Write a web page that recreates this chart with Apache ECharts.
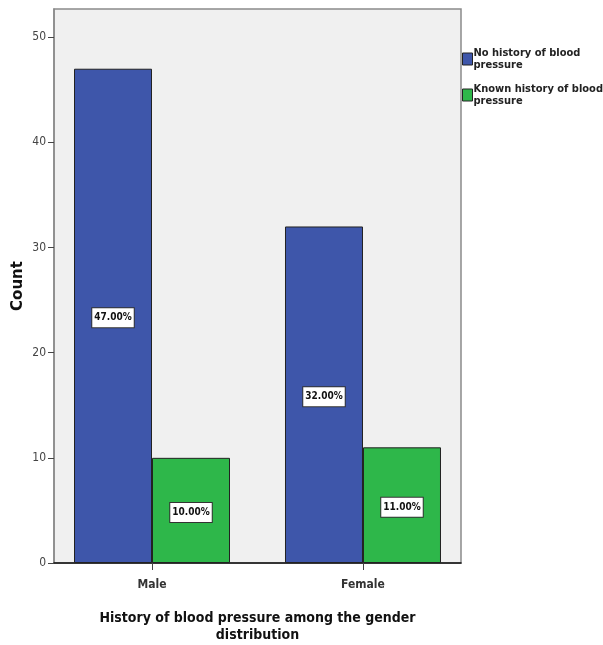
<!DOCTYPE html>
<html>
<head>
<meta charset="utf-8">
<script src="https://cdn.jsdelivr.net/npm/echarts@6/dist/echarts.min.js"></script>
<style>
html,body{margin:0;padding:0;background:#fff;}
#chart{width:603px;height:645px;}
</style>
</head>
<body>
<div id="chart"></div>
<script>
const categories = ['Male', 'Female'];
const seriesNames = ['No history of blood pressure', 'Known history of blood pressure'];
const noHistory = [47, 32];
const knownHistory = [10, 11];
const totalCount = 100;
const yTicks = [0, 10, 20, 30, 40, 50];

const FONT = "'DejaVu Sans Condensed', 'Liberation Sans Narrow', sans-serif";
const colors = ['#3e56aa', '#2eb74a'];

function toPoints(arr) { return arr.map((v, i) => [i, v]); }

const chart = echarts.init(document.getElementById('chart'), null, {renderer: 'canvas'});

const labelCfg = {
  show: true,
  position: 'inside',
  offset: [0, 2],
  formatter: p => (p.value[1] / totalCount * 100).toFixed(2) + '%',
  color: '#111',
  fontFamily: FONT,
  fontWeight: 'bold',
  fontSize: 10,
  backgroundColor: '#fff',
  borderColor: '#333',
  borderWidth: 1,
  padding: [5, 2, 4, 2]
};

chart.setOption({
  animation: false,
  backgroundColor: '#fff',
  grid: {
    left: 54, right: 142, top: 9, bottom: 82,
    show: true, backgroundColor: '#f0f0f0', borderColor: '#8a8a8a', borderWidth: 1.5,
    containLabel: false,
    outerBoundsMode: 'none'
  },
  legend: {
    orient: 'vertical',
    left: 457, top: 36,
    itemWidth: 10, itemHeight: 12,
    icon: 'rect',
    itemGap: 0,
    itemStyle: {borderColor: '#222', borderWidth: 1},
    formatter: name => name.replace(' of blood ', ' of blood\n'),
    textStyle: {
      fontFamily: FONT, fontSize: 11, fontWeight: 'bold', color: '#222',
      lineHeight: 12, padding: [12, 0, 0, -4]
    },
    data: seriesNames
  },
  xAxis: {
    type: 'value',
    min: -0.4645, max: 1.4645,
    splitLine: {show: false},
    axisLine: {show: true, lineStyle: {color: '#111', width: 1.5}},
    axisTick: {show: true, length: 7, customValues: categories.map((c, i) => i), lineStyle: {color: '#444'}},
    axisLabel: {
      customValues: categories.map((c, i) => i),
      formatter: v => categories[Math.round(v)] || '',
      fontFamily: FONT, fontSize: 12, fontWeight: 'bold', color: '#333', margin: 16
    },
    name: 'History of blood pressure among the gender\ndistribution',
    nameLocation: 'middle',
    nameGap: 47,
    nameTextStyle: {fontFamily: FONT, fontSize: 14, fontWeight: 'bold', color: '#111', lineHeight: 17}
  },
  yAxis: {
    type: 'value',
    min: 0, max: 52.68,
    splitLine: {show: false},
    axisLine: {show: true, onZero: false, lineStyle: {color: '#8a8a8a', width: 1.5}},
    axisTick: {show: true, length: 6, customValues: yTicks, lineStyle: {color: '#444'}},
    axisLabel: {
      customValues: yTicks,
      fontFamily: FONT, fontSize: 12, color: '#444', margin: 8
    },
    name: 'Count',
    nameLocation: 'middle',
    nameGap: 28,
    nameMoveOverlap: false,
    nameTextStyle: {fontFamily: "'DejaVu Sans', sans-serif", fontSize: 15, fontWeight: 'bold', color: '#111'}
  },
  series: [
    {
      name: seriesNames[0], type: 'bar', data: toPoints(noHistory),
      barWidth: 78, barGap: '0%',
      itemStyle: {color: colors[0], borderColor: '#222', borderWidth: 1},
      label: labelCfg
    },
    {
      name: seriesNames[1], type: 'bar', data: toPoints(knownHistory),
      barWidth: 78, barGap: '0%',
      itemStyle: {color: colors[1], borderColor: '#222', borderWidth: 1},
      label: labelCfg
    }
  ]
});
</script>
</body>
</html>
